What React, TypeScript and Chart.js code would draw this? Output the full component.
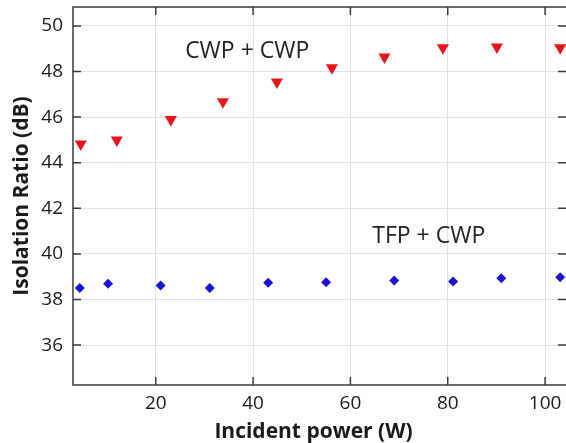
import React, { useEffect, useRef } from "react";
import { Chart, registerables } from "chart.js";

Chart.register(...registerables);

const cwpX = [4.6, 12.0, 23.1, 33.8, 44.9, 56.2, 67.0, 79.0, 90.1, 103.1];
const cwpY = [44.82, 45.0, 45.9, 46.67, 47.54, 48.16, 48.64, 49.04, 49.08, 49.04];
const tfpX = [4.4, 10.2, 21.0, 31.1, 43.1, 55.0, 69.0, 81.1, 91.0, 103.1];
const tfpY = [38.51, 38.69, 38.61, 38.51, 38.73, 38.76, 38.83, 38.79, 38.93, 38.98];
const xTicks = [20, 40, 60, 80, 100];
const yTicks = [36, 38, 40, 42, 44, 46, 48, 50];
const labels = [
  { text: "CWP + CWP", x: 38.8, y: 48.9 },
  { text: "TFP + CWP", x: 76.1, y: 40.77 },
];
const xTitle = "Incident power (W)";

const FONT = "'Open Sans', 'DejaVu Sans', sans-serif";

const framePlugin = {
  id: "frame",
  afterDatasetsDraw(chart: any) {
    const { ctx, chartArea, scales } = chart;
    const { left, right, top, bottom } = chartArea;
    ctx.save();
    ctx.fillStyle = "#222";
    ctx.font = `23px ${FONT}`;
    ctx.textAlign = "center";
    ctx.textBaseline = "middle";
    labels.forEach((l) => {
      ctx.fillText(l.text, scales.x.getPixelForValue(l.x), scales.y.getPixelForValue(l.y));
    });
    // x axis title
    ctx.fillStyle = "#1a1a1a";
    ctx.font = `bold 21px ${FONT}`;
    ctx.fillText(xTitle, (left + right) / 2 - 6.5, bottom + 47);
    // frame
    ctx.strokeStyle = "#3a3a3a";
    ctx.lineWidth = 1.5;
    ctx.strokeRect(left, top, right - left, bottom - top);
    const tl = 8;
    ctx.beginPath();
    xTicks.forEach((v) => {
      const px = scales.x.getPixelForValue(v);
      ctx.moveTo(px, bottom);
      ctx.lineTo(px, bottom - tl);
      ctx.moveTo(px, top);
      ctx.lineTo(px, top + tl);
    });
    yTicks.forEach((v) => {
      const py = scales.y.getPixelForValue(v);
      ctx.moveTo(left, py);
      ctx.lineTo(left + tl, py);
      ctx.moveTo(right, py);
      ctx.lineTo(right - tl - 1, py);
    });
    ctx.stroke();
    ctx.restore();
  },
};

function zeroPad(s: any) {
  s.paddingLeft = 0;
  s.paddingRight = 0;
  s.paddingTop = 0;
  s.paddingBottom = 0;
}

export default function App() {
  const ref = useRef<HTMLCanvasElement>(null);
  useEffect(() => {
    if (!ref.current) return;
    const chart = new Chart(ref.current, {
      type: "scatter",
      data: {
        datasets: [
          {
            label: "CWP + CWP",
            data: cwpX.map((x, i) => ({ x, y: cwpY[i] })),
            pointStyle: "triangle",
            rotation: 180,
            radius: 7,
            backgroundColor: "#e8141c",
            borderColor: "#e8141c",
            borderWidth: 0,
          },
          {
            label: "TFP + CWP",
            data: tfpX.map((x, i) => ({ x, y: tfpY[i] })),
            pointStyle: "rectRot",
            radius: 5,
            backgroundColor: "#1c12d2",
            borderColor: "#1c12d2",
            borderWidth: 0,
          },
        ],
      },
      options: {
        responsive: false,
        animation: false,
        layout: { padding: { top: 7, right: 0, left: 0, bottom: 0 } },
        plugins: { legend: { display: false }, tooltip: { enabled: false } },
        scales: {
          x: {
            type: "linear",
            min: 3,
            max: 104.5,
            afterBuildTicks: (s: any) => {
              s.ticks = xTicks.map((v) => ({ value: v }));
            },
            afterFit: (s: any) => {
              s.height = 58;
              zeroPad(s);
            },
            grid: { color: "#dfe1ee", lineWidth: 1, drawTicks: false },
            border: { display: false },
            ticks: { color: "#1a1a1a", font: { family: FONT, size: 19 }, padding: 7, maxRotation: 0 },
            title: { display: false },
          },
          y: {
            type: "linear",
            min: 34.25,
            max: 50.83,
            afterBuildTicks: (s: any) => {
              s.ticks = yTicks.map((v) => ({ value: v }));
            },
            afterFit: (s: any) => {
              s.width = 73;
              zeroPad(s);
            },
            grid: { color: "#dfe1ee", lineWidth: 1, drawTicks: false },
            border: { display: false },
            ticks: { color: "#1a1a1a", font: { family: FONT, size: 19 }, padding: 10 },
            title: {
              display: true,
              text: "Isolation Ratio (dB)",
              color: "#1a1a1a",
              font: { family: FONT, size: 21, weight: "bold", lineHeight: 1 },
              padding: { top: 11.5, bottom: 0 },
            },
          },
        },
      },
      plugins: [framePlugin],
    } as any);
    return () => chart.destroy();
  }, []);
  return (
    <div style={{ position: "fixed", left: 0, top: 0, width: 566, height: 443, background: "#fff", overflow: "hidden" }}>
      <canvas ref={ref} width={574} height={443} style={{ display: "block" }} />
    </div>
  );
}
